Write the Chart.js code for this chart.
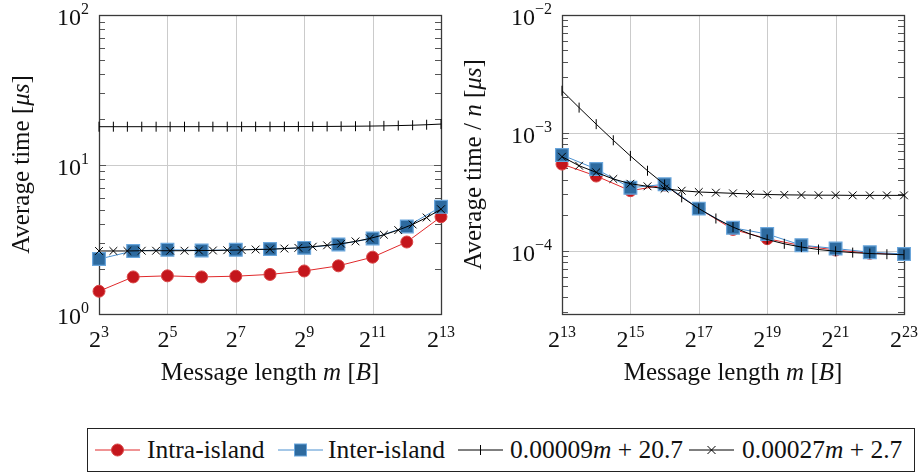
<!DOCTYPE html>
<html>
<head>
<meta charset="utf-8">
<script src="https://cdn.jsdelivr.net/npm/chart.js@4.4.0/dist/chart.umd.min.js"></script>
<style>
  body { margin: 0; background: #fff; width: 922px; height: 475px; position: relative; overflow: hidden; font-family: "Liberation Serif", serif; }
  #leftChart { position: absolute; left: 0; top: 0; }
  #rightChart { position: absolute; left: 461px; top: 0; }
  #legend { position: absolute; left: 87px; top: 428px; width: 826px; height: 42px; border: 1px solid #222; }
  #legend svg { position: absolute; top: 0; }
  #legend .lbl { position: absolute; top: 0; line-height: 42px; font-size: 25.5px; color: #111; white-space: nowrap; }
</style>
</head>
<body>
<canvas id="leftChart" width="461" height="400"></canvas>
<canvas id="rightChart" width="461" height="400"></canvas>
<div id="legend"></div>
<script>
// ---- data (x values are log2 of the message length) ----
const leftExp = [3, 4, 5, 6, 7, 8, 9, 10, 11, 12, 13];
const leftIntra = [1.42, 1.77, 1.80, 1.77, 1.79, 1.84, 1.94, 2.10, 2.40, 3.03, 4.47];
const leftInter = [2.33, 2.64, 2.69, 2.66, 2.69, 2.72, 2.77, 2.92, 3.20, 3.85, 5.21];

const leftFitExp = [3, 3.42, 3.83, 4.25, 4.67, 5.08, 5.5, 5.92, 6.33, 6.75, 7.17, 7.58, 8,
  8.42, 8.83, 9.25, 9.67, 10.08, 10.5, 10.92, 11.33, 11.75, 12.17, 12.58, 13];
const leftFitBar = [17.90, 17.90, 17.90, 17.90, 17.90, 17.90, 17.90, 17.91, 17.91, 17.91, 17.91, 17.92, 17.92,
  17.93, 17.94, 17.95, 17.97, 18.00, 18.03, 18.07, 18.13, 18.21, 18.31, 18.45, 18.64];
const leftFitCross = [2.64, 2.64, 2.64, 2.65, 2.65, 2.65, 2.65, 2.66, 2.66, 2.67, 2.68, 2.70, 2.71,
  2.74, 2.77, 2.82, 2.88, 2.95, 3.06, 3.20, 3.39, 3.64, 3.97, 4.42, 5.02];

const rightExp = [13, 14, 15, 16, 17, 18, 19, 20, 21, 22, 23];
const rightIntra = [5.42e-4, 4.29e-4, 3.22e-4, 3.60e-4, 2.27e-4, 1.51e-4, 1.26e-4, 1.10e-4, 1.01e-4, 9.47e-5, 9.35e-5];
const rightInter = [6.47e-4, 4.92e-4, 3.41e-4, 3.65e-4, 2.27e-4, 1.56e-4, 1.38e-4, 1.11e-4, 1.04e-4, 9.67e-5, 9.35e-5];

const rightFitExp = [13, 13.5, 14, 14.5, 15, 15.5, 16, 16.5, 17, 17.5, 18, 18.5, 19, 19.5, 20, 20.5, 21, 21.5, 22, 22.5, 23];
const rightFitBar = [2.275e-3, 1.635e-3, 1.183e-3, 8.63e-4, 6.36e-4, 4.76e-4, 3.63e-4, 2.83e-4, 2.27e-4, 1.87e-4,
  1.58e-4, 1.38e-4, 1.24e-4, 1.14e-4, 1.07e-4, 1.02e-4, 9.85e-5, 9.60e-5, 9.43e-5, 9.30e-5, 9.21e-5];
const rightFitCross = [6.26e-4, 5.25e-4, 4.61e-4, 4.05e-4, 3.69e-4, 3.51e-4, 3.35e-4, 3.22e-4, 3.14e-4, 3.10e-4,
  3.06e-4, 3.02e-4, 2.99e-4, 2.97e-4, 2.96e-4, 2.95e-4, 2.95e-4, 2.94e-4, 2.94e-4, 2.94e-4, 2.94e-4];

const leftXTicks = [3, 5, 7, 9, 11, 13];
const rightXTicks = [13, 15, 17, 19, 21, 23];
const leftYDecades = [0, 1, 2];
const rightYDecades = [-4, -3, -2];

const seriesNames = ['Intra-island', 'Inter-island', '0.00009m + 20.7', '0.00027m + 2.7'];

const RED = '#c4161c', RED_LINE = '#e0292b';
const BLUE = '#2d6a9f', BLUE_LINE = '#4a90d0', BLUE_EDGE = '#6aa6dc';
const FONT = '"Liberation Serif", serif';

function pts(xs, ys) { return xs.map((x, i) => ({ x: x, y: ys[i] })); }

// draw a run of text pieces, some italic
function richWidth(ctx, parts, size) {
  let w = 0;
  parts.forEach(p => { ctx.font = (p[1] ? 'italic ' : '') + size + 'px ' + FONT; w += ctx.measureText(p[0]).width; });
  return w;
}
function drawRich(ctx, parts, size, x, y) {
  let cx = x;
  parts.forEach(p => {
    ctx.font = (p[1] ? 'italic ' : '') + size + 'px ' + FONT;
    ctx.fillText(p[0], cx, y);
    cx += ctx.measureText(p[0]).width;
  });
}

const framePlugin = {
  id: 'frame',
  beforeDatasetsDraw(chart, args, opts) {
    const ctx = chart.ctx, a = chart.chartArea;
    const xs = chart.scales.x, ys = chart.scales.y;
    ctx.save();
    // grid
    ctx.strokeStyle = '#cbcbcb';
    ctx.lineWidth = 1;
    opts.xTicks.forEach(v => {
      const px = Math.round(xs.getPixelForValue(v)) + 0.5;
      ctx.beginPath(); ctx.moveTo(px, a.top); ctx.lineTo(px, a.bottom); ctx.stroke();
    });
    opts.yDecades.forEach(d => {
      const py = Math.round(ys.getPixelForValue(Math.pow(10, d))) + 0.5;
      ctx.beginPath(); ctx.moveTo(a.left, py); ctx.lineTo(a.right, py); ctx.stroke();
    });
    // minor ticks on both sides
    ctx.strokeStyle = '#555';
    const lo = Math.floor(Math.log10(ys.min)), hi = Math.ceil(Math.log10(ys.max));
    for (let d = lo; d <= hi; d++) {
      for (let k = 1; k <= 9; k++) {
        const v = k * Math.pow(10, d);
        if (v < ys.min * 0.999 || v > ys.max * 1.001) continue;
        const py = Math.round(ys.getPixelForValue(v)) + 0.5;
        const len = k === 1 ? 7 : 6;
        ctx.beginPath();
        ctx.moveTo(a.left, py); ctx.lineTo(a.left + len, py);
        ctx.moveTo(a.right, py); ctx.lineTo(a.right - len, py);
        ctx.stroke();
      }
    }
    // frame
    ctx.strokeStyle = '#3a3a3a';
    ctx.lineWidth = 1.3;
    ctx.strokeRect(a.left + 0.5, a.top + 0.5, a.right - a.left, a.bottom - a.top);
    ctx.restore();
  },
  afterDraw(chart, args, opts) {
    const ctx = chart.ctx, a = chart.chartArea;
    const xs = chart.scales.x, ys = chart.scales.y;
    ctx.save();
    ctx.fillStyle = '#111';
    ctx.textBaseline = 'alphabetic';
    // x tick labels 2^n
    opts.xTicks.forEach(v => {
      const px = xs.getPixelForValue(v);
      ctx.font = '24px ' + FONT;
      const bw = ctx.measureText('2').width;
      ctx.font = '16px ' + FONT;
      const sw = ctx.measureText(String(v)).width;
      const x0 = px - (bw + sw) / 2;
      ctx.font = '24px ' + FONT;
      ctx.fillText('2', x0, a.bottom + 33);
      ctx.font = '16px ' + FONT;
      ctx.fillText(String(v), x0 + bw, a.bottom + 23);
    });
    // y tick labels 10^d
    opts.yDecades.forEach(d => {
      const py = ys.getPixelForValue(Math.pow(10, d));
      const sup = d < 0 ? '\u2212' + (-d) : String(d);
      ctx.font = '16px ' + FONT;
      const sw = ctx.measureText(sup).width;
      ctx.font = '24px ' + FONT;
      const bw = ctx.measureText('10').width;
      const x1 = a.left - 10;
      ctx.fillText('10', x1 - sw - bw, py + 10);
      ctx.font = '16px ' + FONT;
      ctx.fillText(sup, x1 - sw, py - 1);
    });
    // x title
    const xt = [['Message length ', false], ['m', true], [' [', false], ['B', true], [']', false]];
    const xw = richWidth(ctx, xt, 25);
    drawRich(ctx, xt, 25, (a.left + a.right) / 2 - xw / 2, 380);
    // y title, rotated
    const yw = richWidth(ctx, opts.yTitle, 25);
    ctx.translate(opts.yTitleX, (a.top + a.bottom) / 2);
    ctx.rotate(-Math.PI / 2);
    drawRich(ctx, opts.yTitle, 25, -yw / 2, 0);
    ctx.restore();
  }
};

function makeDatasets(exp, intra, inter, fitExp, fitBar, fitCross) {
  return [
    { data: pts(exp, intra), borderColor: RED_LINE, borderWidth: 1, pointStyle: 'circle', pointRadius: 6,
      pointBackgroundColor: RED, pointBorderColor: '#d94646', pointBorderWidth: 1, order: 4, clip: false },
    { data: pts(exp, inter), borderColor: BLUE_LINE, borderWidth: 1, pointStyle: 'rect', pointRadius: 9,
      pointBackgroundColor: BLUE, pointBorderColor: BLUE_EDGE, pointBorderWidth: 1.2, order: 3, clip: false },
    { data: pts(fitExp, fitBar), borderColor: '#000', borderWidth: 1, pointStyle: 'line', pointRotation: 90,
      pointRadius: 5, pointBorderColor: '#000', pointBorderWidth: 1, order: 2, clip: false },
    { data: pts(fitExp, fitCross), borderColor: '#000', borderWidth: 1, pointStyle: 'crossRot',
      pointRadius: 5.5, pointBorderColor: '#000', pointBorderWidth: 1, order: 1, clip: false }
  ];
}

function makeChart(id, padding, xMin, xMax, yMin, yMax, datasets, frameOpts) {
  return new Chart(document.getElementById(id), {
    type: 'line',
    data: { datasets: datasets },
    options: {
      responsive: false,
      animation: false,
      layout: { padding: padding },
      plugins: { legend: { display: false }, tooltip: { enabled: false }, frame: frameOpts },
      elements: { line: { tension: 0 } },
      scales: {
        x: { type: 'linear', min: xMin, max: xMax, display: false },
        y: { type: 'logarithmic', min: yMin, max: yMax, display: false }
      }
    },
    plugins: [framePlugin]
  });
}

makeChart('leftChart', { left: 99, right: 20, top: 15, bottom: 86 }, 3, 13, 1, 100,
  makeDatasets(leftExp, leftIntra, leftInter, leftFitExp, leftFitBar, leftFitCross),
  { xTicks: leftXTicks, yDecades: leftYDecades, yTitleX: 29,
    yTitle: [['Average time [', false], ['\u03bcs', true], [']', false]] });

makeChart('rightChart', { left: 101, right: 18, top: 15, bottom: 86 }, 13, 23, 2.89e-5, 1e-2,
  makeDatasets(rightExp, rightIntra, rightInter, rightFitExp, rightFitBar, rightFitCross),
  { xTicks: rightXTicks, yDecades: rightYDecades, yTitleX: 20,
    yTitle: [['Average time / ', false], ['n', true], [' [', false], ['\u03bcs', true], [']', false]] });

// ---- shared legend ----
const legendMarks = [
  '<line x1="0" y1="21" x2="45" y2="21" stroke="' + RED_LINE + '"/><circle cx="22.5" cy="21" r="6" fill="' + RED + '" stroke="#d94646"/>',
  '<line x1="0" y1="21" x2="45" y2="21" stroke="' + BLUE_LINE + '"/><rect x="16.5" y="15" width="12" height="12" fill="' + BLUE + '" stroke="' + BLUE_EDGE + '"/>',
  '<line x1="0" y1="21" x2="45" y2="21" stroke="#000"/><line x1="22.5" y1="16" x2="22.5" y2="26" stroke="#000"/>',
  '<line x1="0" y1="21" x2="45" y2="21" stroke="#000"/><path d="M18.5 17L26.5 25M26.5 17L18.5 25" stroke="#000"/>'
];
const markLeft = [7, 190, 370, 601];
const textLeft = [59, 240, 422, 654];
const legend = document.getElementById('legend');
seriesNames.forEach((name, i) => {
  const svg = '<svg width="45" height="42" style="left:' + markLeft[i] + 'px">' + legendMarks[i] + '</svg>';
  const label = name.replace('m', '<i>m</i>');
  legend.insertAdjacentHTML('beforeend', svg + '<span class="lbl" style="left:' + textLeft[i] + 'px">' + label + '</span>');
});
</script>
</body>
</html>
